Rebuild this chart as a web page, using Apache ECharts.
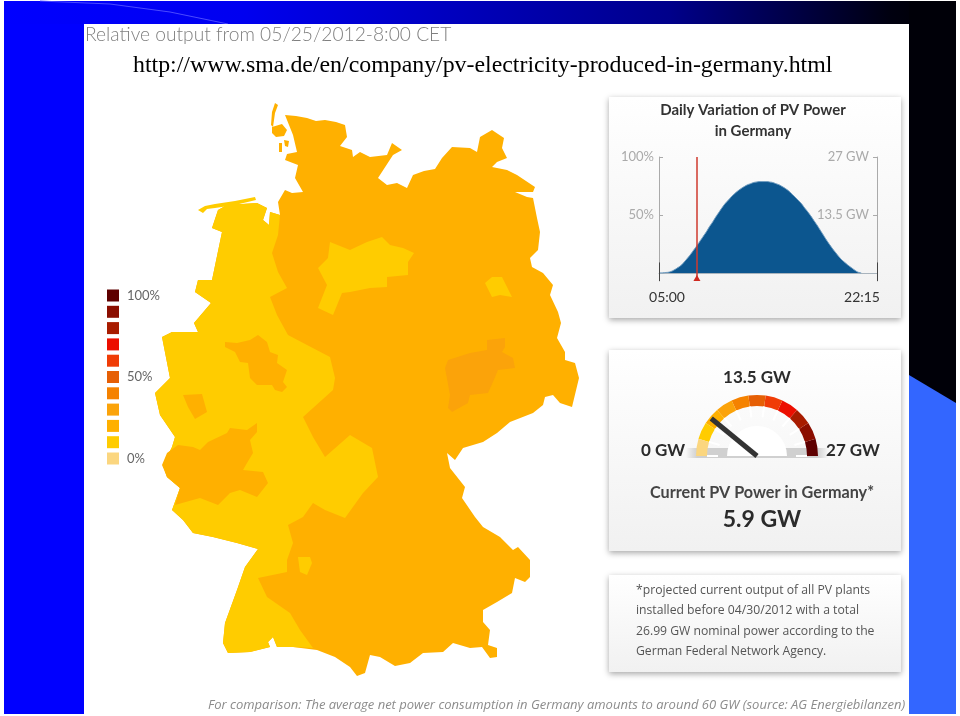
<!DOCTYPE html>
<html>
<head>
<meta charset="utf-8">
<style>html,body{margin:0;padding:0;background:#fff}#main{width:960px;height:716px}</style>
<script src="https://cdn.jsdelivr.net/npm/echarts@6/dist/echarts.min.js"></script>
</head>
<body>
<div id="main"></div>
<script>
// legend and gauge steps, low to high
var stepColors = ['#FBD67F','#FFCC00','#FFB000','#FBA30A','#F58200','#E65F05','#F03C06','#EC0E00','#A81C00','#8B0E00','#5E0000'];
var stepLabels = ['0%',' ',' ',' ',' ','50%',' ',' ',' ',' ','100%'];

// daily curve, 15 minute steps
var times = ['05:00','05:15','05:30','05:45','06:00','06:15','06:30','06:45','07:00','07:15','07:30','07:45','08:00','08:15','08:30','08:45',
  '09:00','09:15','09:30','09:45','10:00','10:15','10:30','10:45','11:00','11:15','11:30','11:45','12:00','12:15','12:30','12:45',
  '13:00','13:15','13:30','13:45','14:00','14:15','14:30','14:45','15:00','15:15','15:30','15:45','16:00','16:15','16:30','16:45',
  '17:00','17:15','17:30','17:45','18:00','18:15','18:30','18:45','19:00','19:15','19:30','19:45','20:00','20:15','20:30','20:45',
  '21:00','21:15','21:30','21:45','22:00','22:15'];
var powerPct = [0,0,0.3,0.6,1.4,2.9,4.6,6.6,9.5,12.6,16,19.8,23.5,27.5,31.5,35.5,
  40,44,48.4,52.4,56.4,60,63,66,68.5,70.8,72.8,74.5,76,77,78,78.5,
  78.8,78.8,78.8,78.5,78,77,76,74.5,72.8,70.8,68.2,65.6,62.8,60,56.4,53,
  49.3,45.3,41.3,37,32.7,28.4,24.4,20.6,17.2,13.8,10.9,8.6,6.3,4.3,2.3,0.6,0];
var nowTime = '08:00';
var currentGW = 5.9;
var maxGW = 27;

// map outlines
var outlineGermany = [[285,115],[296,116],[307,118],[316,121],[325,120],[336,122],[345,125],[347,137],[340,146],[352,150],[353,157],[360,152],[370,157],[387,155],[392,143],[402,150],[393,155],[378,178],[387,185],[397,183],[407,188],[413,175],[424,171],[435,169],[442,158],[452,147],[470,148],[477,152],[480,137],[492,130],[504,138],[502,148],[507,158],[497,162],[492,167],[507,170],[517,175],[535,187],[533,192],[515,192],[527,197],[533,198],[537,218],[540,232],[538,250],[530,258],[532,267],[543,273],[553,285],[550,295],[558,312],[561,323],[557,338],[565,352],[565,360],[575,363],[579,378],[572,407],[560,403],[553,395],[545,397],[543,405],[533,413],[510,422],[497,433],[483,442],[463,448],[455,460],[447,453],[450,468],[465,487],[462,498],[475,517],[483,527],[500,537],[513,550],[518,547],[530,560],[530,577],[525,582],[515,578],[512,593],[497,602],[483,610],[483,622],[490,630],[488,645],[497,648],[497,657],[490,658],[482,647],[470,648],[453,643],[443,652],[423,653],[410,663],[395,666],[380,657],[370,655],[365,673],[357,676],[350,667],[335,657],[317,650],[293,647],[277,647],[273,637],[268,642],[270,647],[250,652],[228,653],[223,643],[225,623],[237,590],[245,567],[258,549],[237,543],[213,537],[193,533],[183,520],[172,510],[180,488],[167,477],[163,465],[172,447],[175,437],[160,415],[155,393],[170,378],[162,337],[172,332],[198,332],[194,323],[211,303],[195,292],[198,280],[212,280],[222,232],[212,228],[218,210],[227,205],[257,203],[267,208],[263,220],[269,225],[270,212],[280,215],[278,202],[285,190],[292,193],[303,192],[295,178],[298,165],[285,160],[287,154],[297,152],[293,135]];
var islandSylt = [[275,103],[278,105],[275,113],[273,127],[271,125],[272,112]];
var islandFoehr = [[272,127],[282,124],[287,130],[284,136],[276,137],[272,133]];
var islandAmrum = [[279,143],[282,143],[282,152],[279,152]];
var islandPellworm = [[284,140],[289,141],[288,147],[285,146]];
var outlineWest = [[280,215],[278,235],[272,253],[278,272],[287,288],[270,297],[277,315],[288,335],[307,345],[330,357],[335,378],[333,390],[303,417],[313,437],[325,457],[350,435],[372,448],[378,477],[363,493],[345,518],[325,510],[313,503],[303,517],[288,525],[293,543],[287,560],[287,572],[258,578],[267,597],[290,613],[300,630],[313,648],[293,647],[277,647],[273,637],[268,642],[270,647],[250,652],[228,653],[223,643],[225,623],[237,590],[245,567],[258,549],[237,543],[213,537],[193,533],[183,520],[172,510],[180,488],[167,477],[163,465],[172,447],[175,437],[160,415],[155,393],[170,378],[162,337],[172,332],[198,332],[194,323],[211,303],[195,292],[198,280],[212,280],[222,232],[212,228],[218,210],[227,205],[257,203],[267,208],[263,220],[269,225],[270,212]];
var islandsFrisian = [[198,210],[205,206],[215,204],[235,201],[255,197],[256,200],[235,205],[215,208],[207,209],[203,213]];
var outlineHarz = [[330,242],[350,250],[367,242],[382,237],[390,245],[403,248],[414,253],[408,262],[408,275],[387,277],[387,287],[370,288],[350,292],[342,293],[333,315],[318,308],[327,285],[318,268],[328,258]];
var outlineBerlin = [[485,283],[492,277],[502,277],[507,287],[512,297],[500,295],[492,297]];
var outlineSwabia = [[298,557],[310,557],[312,563],[307,575],[300,572]];
var outlineRuhr = [[225,342],[237,343],[250,340],[258,335],[267,342],[270,352],[278,355],[277,363],[287,370],[283,382],[287,387],[282,392],[275,390],[272,385],[257,385],[250,378],[248,363],[240,362],[235,352],[225,347]];
var outlineCologne = [[183,395],[202,394],[207,412],[195,419],[188,407]];
var outlineEifel = [[162,465],[167,453],[178,445],[193,447],[200,450],[208,442],[227,433],[230,428],[247,430],[257,423],[257,432],[250,440],[253,453],[247,463],[243,470],[263,472],[268,483],[257,497],[240,490],[230,493],[218,505],[200,498],[175,505],[180,488],[167,477]];
var outlineLeipzig = [[487,340],[505,338],[505,347],[502,352],[513,358],[515,368],[498,370],[493,382],[488,393],[470,395],[468,403],[452,412],[448,408],[450,395],[445,368],[448,360],[470,353],[487,350]];

// relative output per area, in percent, drawn in this order
var regionNames = ['Germany','West','Harz','Berlin','Swabia','Ruhr','Cologne','Eifel','Leipzig'];
var regionValues = [20,10,10,10,10,20,20,20,30];
var regionRings = [
  [outlineGermany,islandSylt,islandFoehr,islandAmrum,islandPellworm],
  [outlineWest,islandsFrisian],
  [outlineHarz],[outlineBerlin],[outlineSwabia],[outlineRuhr],[outlineCologne],[outlineEifel],[outlineLeipzig]
];

var noteLines = ['*projected current output of all PV plants','installed before 04/30/2012 with a total','26.99 GW nominal power according to the','German Federal Network Agency.'];

echarts.registerMap('germany', {
  type: 'FeatureCollection',
  features: regionNames.map(function (name, i) {
    return {
      type: 'Feature',
      properties: {name: name},
      geometry: {
        type: 'MultiPolygon',
        coordinates: regionRings[i].map(function (r) { return [r.concat([r[0]])]; })
      }
    };
  })
});

function panel(x, y, w, h) {
  return {
    type: 'rect', z: 0,
    shape: {x: x, y: y, width: w, height: h},
    style: {
      fill: {type: 'linear', x: 0, y: 0, x2: 0, y2: 1, colorStops: [{offset: 0, color: '#ffffff'}, {offset: 1, color: '#f1f1f1'}]},
      shadowBlur: 6, shadowColor: 'rgba(0,0,0,0.35)', shadowOffsetY: 2
    }
  };
}
function label(text, x, y, font, fill, align) {
  return {
    type: 'text', z: 20, x: x, y: y,
    style: {text: text, font: font, fill: fill, textAlign: align || 'left', textVerticalAlign: 'middle'}
  };
}

var gaugeStops = stepColors.map(function (c, i) { return [(i + 1) / stepColors.length, c]; });

var graphics = [
  // slide behind the screenshot
  {type: 'rect', z: 0, shape: {x: 4, y: 1, width: 952, height: 713}, style: {fill: '#0000ff'}},
  {type: 'rect', z: 0, shape: {x: 4, y: 1, width: 952, height: 23},
    style: {fill: {type: 'linear', x: 0, y: 0, x2: 1, y2: 0, colorStops: [{offset: 0, color: '#0000ff'}, {offset: 0.25, color: '#0000f0'}, {offset: 0.7, color: '#00008a'}, {offset: 0.93, color: '#000010'}, {offset: 1, color: '#000000'}]}}},
  {type: 'polyline', z: 0, shape: {points: [[40, 1], [110, 4], [170, 12], [228, 24]]}, style: {stroke: '#4a4aff', lineWidth: 1, fill: null}},
  {type: 'rect', z: 0, shape: {x: 909, y: 1, width: 47, height: 713}, style: {fill: '#000008'}},
  {type: 'polygon', z: 0, shape: {points: [[909, 375], [956, 403], [956, 714], [909, 714]]}, style: {fill: '#3366ff'}},
  {type: 'rect', z: 0, shape: {x: 84, y: 24, width: 825, height: 692}, style: {fill: '#ffffff'}},
  panel(609, 97, 292, 221),
  panel(609, 350, 292, 201),
  panel(609, 575, 292, 97),
  label('Relative output from 05/25/2012-8:00 CET', 85, 35, '300 19.2px Lato', '#808080'),
  label('http://www.sma.de/en/company/pv-electricity-produced-in-germany.html', 133, 66, '23.85px "Liberation Serif"', '#000000'),
  // gauge base
  {type: 'rect', z: 1, shape: {x: 686, y: 448, width: 142, height: 10},
    style: {fill: {type: 'linear', x: 0, y: 0, x2: 1, y2: 0, colorStops: [{offset: 0, color: 'rgba(200,200,200,0)'}, {offset: 0.08, color: '#d0d0d0'}, {offset: 0.92, color: '#d0d0d0'}, {offset: 1, color: 'rgba(200,200,200,0)'}]}}},
  {type: 'sector', z: 1, shape: {cx: 757, cy: 456, r: 30, r0: 0, startAngle: Math.PI, endAngle: Math.PI * 2}, style: {fill: '#ffffff'}},
  label('13.5 GW', 757, 378, 'bold 17px Lato', '#2b2b2b', 'center'),
  label('0 GW', 663, 451, 'bold 17px Lato', '#2b2b2b', 'center'),
  label('27 GW', 853, 451, 'bold 17px Lato', '#2b2b2b', 'center'),
  label('For comparison: The average net power consumption in Germany amounts to around 60 GW (source: AG Energiebilanzen)', 208, 705, 'italic 13px "Open Sans"', '#8c8c8c')
];
noteLines.forEach(function (line, i) {
  graphics.push(label(line, 636, 590.5 + i * 20.3, '12.2px "Open Sans"', '#555555'));
});

var myChart = echarts.init(document.getElementById('main'));
var option = {
  backgroundColor: '#ffffff',
  animation: false,
  graphic: {elements: graphics},
  title: [{
    text: 'Daily Variation of PV Power\nin Germany',
    left: 748, top: 95, textAlign: 'center',
    textStyle: {fontFamily: 'Lato', fontSize: 15, fontWeight: 'bold', color: '#333333', lineHeight: 21}
  }],
  visualMap: {
    type: 'piecewise',
    seriesIndex: 0,
    left: 92, top: 274,
    orient: 'vertical',
    itemSymbol: 'rect',
    itemWidth: 12, itemHeight: 12, itemGap: 3.3, textGap: 8,
    selectedMode: false, hoverLink: false,
    textStyle: {color: '#666666', fontFamily: 'Lato', fontSize: 13},
    pieces: stepColors.map(function (c, i) {
      return {min: i * 10 - 5, max: i * 10 + 5, color: c, label: stepLabels[i]};
    })
  },
  grid: {left: 659, top: 157, width: 218, height: 124},
  xAxis: {
    type: 'category', data: times, boundaryGap: false,
    axisLine: {onZero: true, lineStyle: {color: '#a9b4bd', width: 1}},
    axisTick: {show: false},
    axisLabel: {
      interval: function (i) { return i === 0 || i === times.length - 1; },
      margin: 9, showMinLabel: true, showMaxLabel: true,
      formatter: function (v, i) { return i === 0 ? '{a|' + v + '}' : '{b|' + v + '}'; },
      rich: {
        a: {fontFamily: 'Lato', fontSize: 14, color: '#333333', padding: [0, 0, 0, 16]},
        b: {fontFamily: 'Lato', fontSize: 14, color: '#333333', padding: [0, 30, 0, 0]}
      }
    },
    splitLine: {show: false}
  },
  yAxis: [{
    type: 'value', min: -7, max: 100, position: 'left',
    axisLine: {show: true, onZero: false, lineStyle: {color: '#aaaaaa'}},
    axisTick: {show: true, inside: true, length: 4, customValues: [50, 100], lineStyle: {color: '#aaaaaa'}},
    axisLabel: {customValues: [50, 100], formatter: '{value}%', margin: 5, color: '#aaaaaa', fontFamily: 'Lato', fontSize: 13},
    splitLine: {show: false}
  }, {
    type: 'value', min: -1.89, max: maxGW, position: 'right',
    axisLine: {show: true, onZero: false, lineStyle: {color: '#aaaaaa'}},
    axisTick: {show: true, inside: true, length: 4, customValues: [13.5, 27], lineStyle: {color: '#aaaaaa'}},
    axisLabel: {customValues: [13.5, 27], inside: true, formatter: '{value} GW', margin: 8, color: '#aaaaaa', fontFamily: 'Lato', fontSize: 13},
    splitLine: {show: false}
  }],
  series: [{
    type: 'map',
    map: 'germany',
    projection: {project: function (p) { return p; }, unproject: function (p) { return p; }},
    boundingCoords: [[0, 0], [960, 716]],
    left: 0, top: 0, width: 960, height: 716,
    roam: false, silent: true,
    label: {show: false},
    emphasis: {disabled: true},
    itemStyle: {borderWidth: 0, areaColor: '#FFB000'},
    data: regionNames.map(function (n, i) { return {name: n, value: regionValues[i]}; })
  }, {
    type: 'line',
    data: powerPct,
    smooth: true, showSymbol: false, silent: true,
    lineStyle: {color: '#6f9cc0', width: 1},
    areaStyle: {color: '#0C568F', opacity: 1},
    markLine: {
      silent: true, symbol: 'none', animation: false,
      label: {show: false},
      data: [
        [{coord: [nowTime, -6], lineStyle: {color: '#cf3a2e', width: 1.5, type: 'solid'}}, {coord: [nowTime, 100]}],
        [{coord: [times[0], -7], lineStyle: {color: '#444444', width: 1, type: 'solid'}}, {coord: [times[0], 9]}],
        [{coord: [times[times.length - 1], -7], lineStyle: {color: '#444444', width: 1, type: 'solid'}}, {coord: [times[times.length - 1], 9]}]
      ]
    },
    markPoint: {
      silent: true, symbol: 'triangle', symbolSize: [7, 6],
      itemStyle: {color: '#cf2a20'}, label: {show: false},
      data: [{coord: [nowTime, -4.5]}]
    }
  }, {
    type: 'gauge',
    center: [757, 456], radius: 61,
    startAngle: 180, endAngle: 0,
    min: 0, max: maxGW, splitNumber: stepColors.length,
    z: 3, silent: true,
    axisLine: {lineStyle: {width: 11, color: gaugeStops}},
    splitLine: {distance: 0, length: 11, lineStyle: {color: '#ffffff', width: 2}},
    axisTick: {show: false},
    axisLabel: {show: false},
    pointer: {icon: 'rect', length: '97%', width: 5, itemStyle: {color: '#333333'}},
    anchor: {show: false},
    title: {offsetCenter: [5, 37], fontFamily: 'Lato', fontSize: 16.2, fontWeight: 'bold', color: '#444444'},
    detail: {offsetCenter: [5, 64], formatter: '{value} GW', fontFamily: 'Lato', fontSize: 23, fontWeight: 'bold', color: '#2b2b2b', valueAnimation: false},
    data: [{value: currentGW, name: 'Current PV Power in Germany*'}]
  }]
};
myChart.setOption(option);
</script>
</body>
</html>
